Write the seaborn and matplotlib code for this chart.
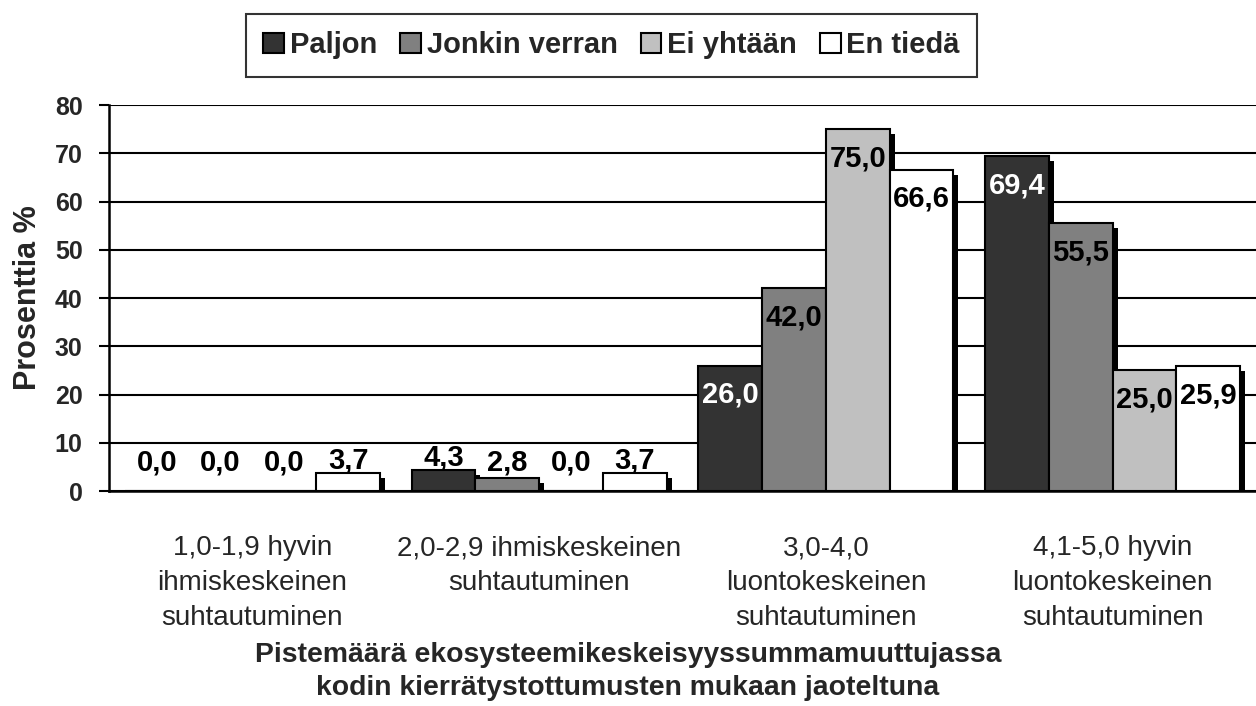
import matplotlib
matplotlib.use("Agg")
import matplotlib.pyplot as plt
import matplotlib.transforms as mtransforms
import seaborn as sns
import pandas as pd
from matplotlib.patches import Rectangle

# ============================================================
# data
# ============================================================
categories = [
    "1,0-1,9 hyvin\nihmiskeskeinen\nsuhtautuminen",
    "2,0-2,9 ihmiskeskeinen\nsuhtautuminen",
    "3,0-4,0\nluontokeskeinen\nsuhtautuminen",
    "4,1-5,0 hyvin\nluontokeskeinen\nsuhtautuminen",
]
series = ["Paljon", "Jonkin verran", "Ei yhtään", "En tiedä"]
paljon = [0.0, 4.3, 26.0, 69.4]
jonkin_verran = [0.0, 2.8, 42.0, 55.5]
ei_yhtaan = [0.0, 0.0, 75.0, 25.0]
en_tieda = [3.7, 3.7, 66.6, 25.9]
colors = ["#333333", "#808080", "#c0c0c0", "#ffffff"]
yticks = [0, 10, 20, 30, 40, 50, 60, 70, 80]
xlabel_lines = ["Pistemäärä ekosysteemikeskeisyyssummamuuttujassa",
                "kodin kierrätystottumusten mukaan jaoteltuna"]
ylabel = "Prosenttia %"
# ============================================================

values = [paljon, jonkin_verran, ei_yhtaan, en_tieda]
rows = []
for name, vals in zip(series, values):
    for cat, v in zip(categories, vals):
        rows.append({"category": cat, "series": name, "value": v})
df = pd.DataFrame(rows)

sns.set_style("white")
plt.rcParams["font.family"] = ["Liberation Sans", "DejaVu Sans"]

fig = plt.figure(figsize=(12.56, 7.06), dpi=100)
ax = fig.add_axes([0.0868, 0.3045, 0.9132, 0.5467])

sns.barplot(data=df, x="category", y="value", hue="series",
            hue_order=series, order=categories, palette=colors,
            saturation=1, width=0.89, edgecolor="black", linewidth=1.5,
            errorbar=None, ax=ax)

handles, labels = ax.get_legend_handles_labels()
ax.get_legend().remove()

# drop shadows behind the bars (offset a few pixels right and down)
shadow_tr = mtransforms.offset_copy(ax.transData, fig=fig, x=5, y=-5,
                                    units="dots")
for cont in ax.containers:
    for bar in cont:
        if bar.get_height() <= 0:
            continue
        ax.add_patch(Rectangle((bar.get_x(), bar.get_y()), bar.get_width(),
                               bar.get_height(), transform=shadow_tr,
                               facecolor="black", edgecolor="none",
                               zorder=0.8, label="_nolegend_"))

# data labels
for cont, name in zip(ax.containers, series):
    for bar in cont:
        v = bar.get_height()
        inside = v > 12
        y = v - 6 if inside else max(6, v + 2.6)
        col = "white" if (inside and name == "Paljon") else "black"
        ax.text(bar.get_x() + bar.get_width() / 2, y,
                f"{v:.1f}".replace(".", ","), ha="center", va="center",
                fontsize=21, fontweight="bold", color=col, zorder=5)

ax.set_ylim(0, 80)
ax.set_xlim(-0.5, 3.5)
ax.set_yticks(yticks)
ax.set_yticklabels([str(t) for t in yticks], fontsize=18, fontweight="bold")
ax.set_xticks(range(len(categories)))
ax.set_xticklabels(categories, fontsize=20, linespacing=1.45)
ax.set_xticks([-0.5, 0.5, 1.5, 2.5, 3.5], minor=True)
ax.tick_params(axis="x", which="major", length=0, pad=32)
ax.tick_params(axis="x", which="minor", length=7, width=1.5, direction="out",
               color="black")
ax.tick_params(axis="y", length=7, width=1.5, direction="out", color="black",
               pad=12, left=True)

ax.yaxis.grid(True, color="black", linewidth=1.5)
ax.set_axisbelow(True)
for s in ["top", "right"]:
    ax.spines[s].set_visible(False)
for s in ["left", "bottom"]:
    ax.spines[s].set_color("black")
    ax.spines[s].set_linewidth(1.8)
    ax.spines[s].set_zorder(6)

ax.set_xlabel("")
ax.set_ylabel(ylabel, fontsize=22, fontweight="bold")
ax.yaxis.set_label_coords(-0.0575, 0.5)

leg = fig.legend(handles, labels, loc="center", bbox_to_anchor=(0.487, 0.936),
                 ncol=4, frameon=True, fancybox=False, edgecolor="black",
                 prop={"size": 21, "weight": "bold"}, handlelength=0.7,
                 handleheight=0.7, handletextpad=0.2, columnspacing=0.8,
                 borderpad=0.6, borderaxespad=0)
leg.get_frame().set_linewidth(1.5)

fig.text(0.5, 1 - 655 / 706, xlabel_lines[0], ha="center", va="center",
         fontsize=20.4, fontweight="bold")
fig.text(0.5, 1 - 688 / 706, xlabel_lines[1], ha="center", va="center",
         fontsize=20.4, fontweight="bold")

fig.savefig("out.png", dpi=100, facecolor="white")
